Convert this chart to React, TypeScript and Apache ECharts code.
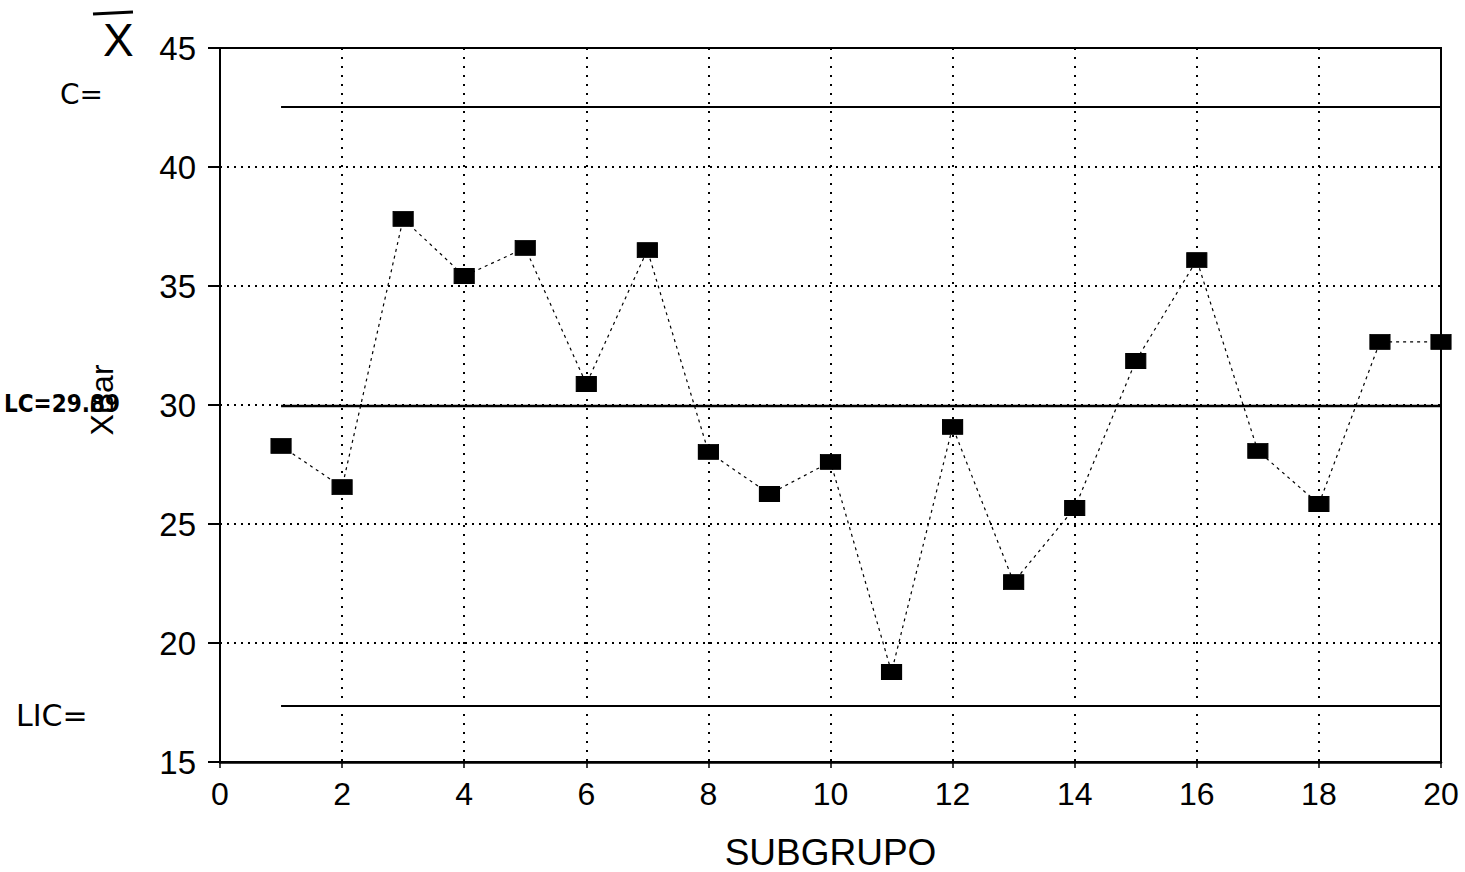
import React, { useEffect, useRef } from "react";
import * as echarts from "echarts";

const subgroups = [1, 2, 3, 4, 5, 6, 7, 8, 9, 10, 11, 12, 13, 14, 15, 16, 17, 18, 19, 20];
const xbarValues = [28.28, 26.55, 37.82, 35.42, 36.6, 30.88, 36.51, 28.03, 26.26, 27.61, 18.78, 29.08, 22.56, 25.67, 31.85, 36.09, 28.07, 25.84, 32.65, 32.65];
const ucl = 42.52;
const centerLine = 29.96;
const lcl = 17.35;
const xTicks = [0, 2, 4, 6, 8, 10, 12, 14, 16, 18, 20];
const yTicks = [15, 20, 25, 30, 35, 40, 45];

export default function App() {
  const ref = useRef<HTMLDivElement>(null);
  useEffect(() => {
    if (!ref.current) return;
    const chart = echarts.init(ref.current, null, { renderer: "svg" });
    const ink = "#000";
    const font = "Liberation Sans, Arial, sans-serif";
    const limitLine = (v: number, w: number) => ({
      type: "line",
      data: [[subgroups[0], v], [subgroups[subgroups.length - 1], v]],
      symbol: "none",
      lineStyle: { color: ink, width: w },
      silent: true,
      z: 3,
    });
    chart.setOption({
      animation: false,
      backgroundColor: "#fff",
      grid: { left: 220, right: 24, top: 48, bottom: 110, outerBoundsMode: "none", containLabel: false, show: true, borderColor: ink, borderWidth: 2, backgroundColor: "transparent" },
      xAxis: {
        type: "value",
        min: xTicks[0],
        max: xTicks[xTicks.length - 1],
        interval: 2,
        name: "SUBGRUPO",
        nameLocation: "middle",
        nameGap: 72,
        nameTextStyle: { color: ink, fontSize: 37, fontFamily: font },
        axisLine: { lineStyle: { color: ink, width: 2.5 } },
        axisTick: { show: true, length: 6, lineStyle: { color: ink, width: 1.5 } },
        axisLabel: { color: ink, fontSize: 32, fontFamily: font, margin: 16 },
        splitLine: { show: true, lineStyle: { color: ink, type: [2, 7], width: 2 } },
      },
      yAxis: {
        type: "value",
        min: yTicks[0],
        max: yTicks[yTicks.length - 1],
        interval: 5,
        axisLine: { show: true, lineStyle: { color: ink, width: 2 } },
        axisTick: { show: true, length: 12, lineStyle: { color: ink, width: 2 } },
        axisLabel: { color: ink, fontSize: 33, fontFamily: font, margin: 24 },
        splitLine: { show: true, lineStyle: { color: ink, type: [2, 5], width: 2 } },
      },
      series: [
        limitLine(ucl, 2),
        limitLine(centerLine, 2.5),
        limitLine(lcl, 2),
        {
          type: "line",
          data: subgroups.map((s, i) => [s, xbarValues[i]]),
          symbol: "rect",
          symbolSize: [20, 15],
          itemStyle: { color: ink, borderColor: ink },
          lineStyle: { color: ink, width: 1.2, type: [3, 4] },
          z: 5,
        },
      ],
      graphic: [
        { type: "text", left: 103, top: 17, style: { text: "X", fontSize: 46, fontFamily: font, fill: ink } },
        { type: "line", shape: { x1: 93, y1: 14, x2: 133, y2: 12 }, style: { stroke: ink, lineWidth: 3 } },
        { type: "text", left: 60, top: 80, style: { text: "C=", fontSize: 28, fontFamily: "DejaVu Sans, sans-serif", fill: ink } },
        { type: "text", left: 4, top: 392, style: { text: "LC=29.89", fontSize: 24, fontWeight: "bold", fontFamily: "DejaVu Sans Condensed, sans-serif", fill: ink } },
        { type: "text", left: 16, top: 700, style: { text: "LIC=", fontSize: 30, fontFamily: "DejaVu Sans, sans-serif", fill: ink } },
        { type: "text", x: 102, y: 400, rotation: Math.PI / 2, style: { text: "XBar", fontSize: 32, fontFamily: font, fill: ink, align: "center", verticalAlign: "middle" } },
      ],
    });
    return () => chart.dispose();
  }, []);
  return <div ref={ref} style={{ position: "fixed", left: 0, top: 0, width: 1465, height: 872 }} />;
}
